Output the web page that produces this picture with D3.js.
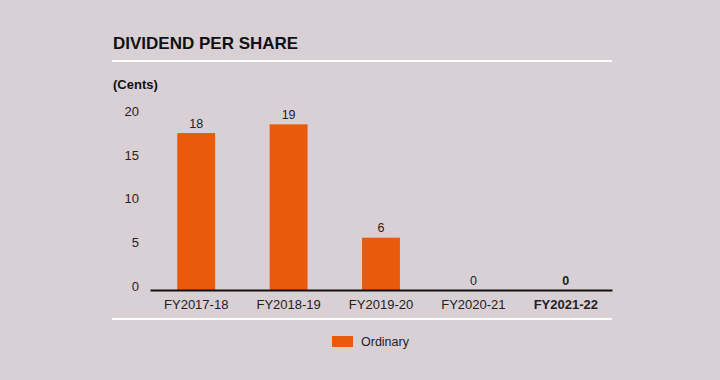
<!DOCTYPE html>
<html><head><meta charset="utf-8">
<script src="https://cdn.jsdelivr.net/npm/d3@7"></script>
<style>
html,body{margin:0;padding:0;background:#d9d0d5;}
svg{display:block;font-family:"Liberation Sans",Arial,sans-serif;}
</style></head>
<body>
<svg id="c" width="720" height="380"></svg>
<script>
const categories = ["FY2017-18","FY2018-19","FY2019-20","FY2020-21","FY2021-22"];
const ordinary = [18, 19, 6, 0, 0];
const yTicks = [0, 5, 10, 15, 20];
const title = "DIVIDEND PER SHARE";
const unitLabel = "(Cents)";
const seriesName = "Ordinary";

const svg = d3.select("#c");
const W = 720, H = 380;
svg.append("rect").attr("width", W).attr("height", H).attr("fill", "#d9d0d5");

const x = d3.scaleBand().domain(categories).range([150, 612]).paddingInner(0.59).paddingOuter(0.295);
const y = d3.scaleLinear().domain([0, 20]).range([290, 115.6]);

// title
svg.append("text").attr("x", 113).attr("y", 49).text(title)
  .attr("font-size", 17).attr("font-weight", "bold").attr("fill", "#111");
svg.append("line").attr("x1", 112).attr("x2", 612).attr("y1", 61).attr("y2", 61)
  .attr("stroke", "#fff").attr("stroke-width", 2);
svg.append("text").attr("x", 113).attr("y", 89).text(unitLabel)
  .attr("font-size", 13).attr("font-weight", "bold").attr("fill", "#111");

// y axis labels
const yAxis = d3.axisLeft(y).tickValues(yTicks).tickSize(0).tickPadding(0);
const gy = svg.append("g").attr("transform", "translate(139,-4)").call(yAxis);
gy.select(".domain").remove();
gy.selectAll("text").attr("font-size", 13).attr("fill", "#222")
  .attr("font-family", "Liberation Sans, Arial, sans-serif");

// bars
svg.selectAll("rect.bar").data(ordinary).join("rect").attr("class", "bar")
  .attr("x", (d, i) => x(categories[i]))
  .attr("width", x.bandwidth())
  .attr("y", d => y(d))
  .attr("height", d => y(0) - y(d))
  .attr("fill", "#ea5a0c");

// value labels
svg.selectAll("text.val").data(ordinary).join("text").attr("class", "val")
  .attr("x", (d, i) => x(categories[i]) + x.bandwidth() / 2)
  .attr("y", d => y(d) - 5.5)
  .attr("text-anchor", "middle")
  .attr("font-size", 12.5)
  .attr("font-weight", (d, i) => i === categories.length - 1 ? "bold" : "normal")
  .attr("fill", "#222")
  .text(d => d);

// x axis
const xAxis = d3.axisBottom(x).tickSize(0).tickPadding(10);
const gx = svg.append("g").attr("transform", "translate(0,290)").call(xAxis);
gx.select(".domain").attr("stroke", "#111").attr("stroke-width", 2);
gx.selectAll("text").attr("font-size", 13).attr("fill", "#222")
  .attr("font-family", "Liberation Sans, Arial, sans-serif")
  .attr("font-weight", (d, i) => i === categories.length - 1 ? "bold" : "normal");

svg.append("line").attr("x1", 112).attr("x2", 612).attr("y1", 319).attr("y2", 319)
  .attr("stroke", "#fff").attr("stroke-width", 2);

// legend
svg.append("rect").attr("x", 332).attr("y", 336).attr("width", 21).attr("height", 11).attr("fill", "#ea5a0c");
svg.append("text").attr("x", 361).attr("y", 345.5).text(seriesName)
  .attr("font-size", 12.5).attr("fill", "#222");
</script>
</body></html>
